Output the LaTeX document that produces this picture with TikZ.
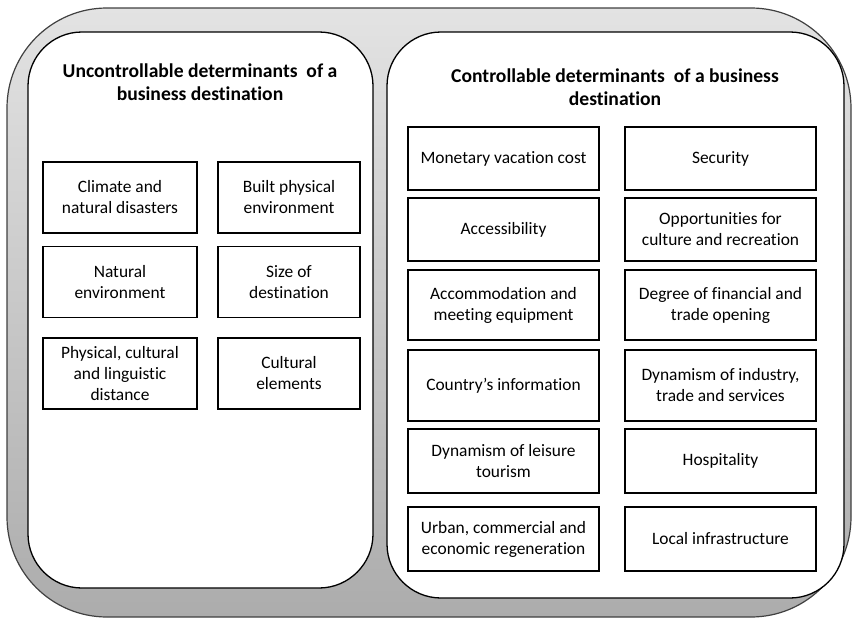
\documentclass[tikz,border=0pt]{standalone}
\usepackage{fontspec}
\setmainfont{Carlito}[Ligatures=NoCommon]
\usepackage{tikz}

\begin{document}
\begin{tikzpicture}[
    x=1pt, y=-1pt,
    outerbox/.style={
        draw=black!75,
        line width=1.2pt,
        rounded corners=100pt,
        top color=gray!22,
        bottom color=gray!65
    },
    panel/.style={draw, line width=1.3pt, fill=white, rounded corners=54pt},
    heading/.style={align=center, font=\fontsize{19.6}{23.5}\selectfont\bfseries},
    factor/.style={
        rectangle,
        draw,
        line width=1.5pt,
        align=center,
        inner sep=0pt,
        font=\fontsize{17.4}{21}\selectfont
    },
    leftbox/.style={factor, minimum height=71pt},
    rightbox/.style={factor, minimum width=191pt}
]

\useasboundingbox (0,0) rectangle (855,621);

% background and the two panels
\draw[outerbox] (7,8) rectangle (851,617);
\draw[panel] (28,32) rectangle (373,588);
\draw[panel] (387,32) rectangle (844,598);

% left panel
\node[heading] (uncontrol) at (200,82) {Uncontrollable determinants\ \ of a\\business destination};

\node[leftbox, minimum width=154pt] (climate) at (120,197.5) {Climate and\\natural disasters};
\node[leftbox, minimum width=142pt] (built) at (289,197.5) {Built physical\\environment};
\node[leftbox, minimum width=154pt] (natural) at (120,282) {Natural\\environment};
\node[leftbox, minimum width=142pt] (size) at (289,282) {Size of\\destination};
\node[leftbox, minimum width=154pt] (distance) at (120,373.5) {Physical, cultural\\and linguistic\\distance};
\node[leftbox, minimum width=142pt] (cultural) at (289,373.5) {Cultural\\elements};

% right panel
\node[heading] (control) at (615,87) {Controllable determinants\ \ of a business\\destination};

\node[rightbox, minimum height=63pt] (cost) at (503.5,158.5) {Monetary vacation cost};
\node[rightbox, minimum height=63pt] (security) at (720.5,158.5) {Security};
\node[rightbox, minimum height=63pt] (access) at (503.5,229.5) {Accessibility};
\node[rightbox, minimum height=63pt] (culture) at (720.5,229.5) {Opportunities for\\culture and recreation};
\node[rightbox, minimum height=70pt] (lodging) at (503.5,305) {Accommodation and\\meeting equipment};
\node[rightbox, minimum height=70pt] (opening) at (720.5,305) {Degree of financial and\\trade opening};
\node[rightbox, minimum height=71pt] (info) at (503.5,385.5) {Country’s information};
\node[rightbox, minimum height=71pt] (industry) at (720.5,385.5) {Dynamism of industry,\\trade and services};
\node[rightbox, minimum height=64pt] (leisure) at (503.5,461) {Dynamism of leisure\\tourism};
\node[rightbox, minimum height=64pt] (hospitality) at (720.5,461) {Hospitality};
\node[rightbox, minimum height=64pt] (urban) at (503.5,539) {Urban, commercial and\\economic regeneration};
\node[rightbox, minimum height=64pt] (infra) at (720.5,539) {Local infrastructure};

\end{tikzpicture}
\end{document}
